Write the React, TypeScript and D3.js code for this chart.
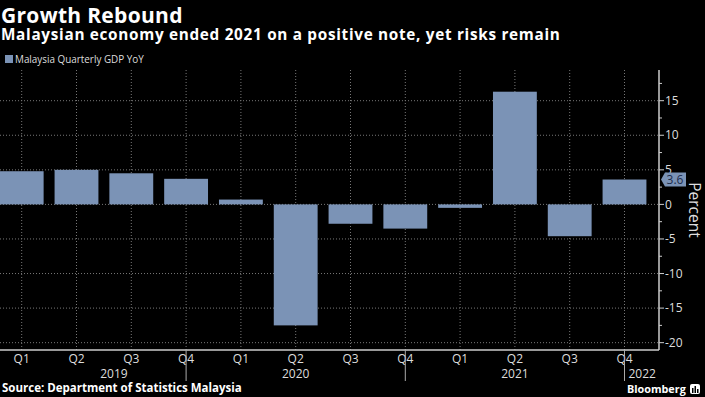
import React from "react";
import { scaleBand, scaleLinear, range } from "d3";

const quarters = ["Q1", "Q2", "Q3", "Q4", "Q1", "Q2", "Q3", "Q4", "Q1", "Q2", "Q3", "Q4"];
const gdpYoY = [4.8, 5.0, 4.5, 3.7, 0.7, -17.5, -2.8, -3.5, -0.5, 16.3, -4.6, 3.6];
const yTicks = [15, 10, 5, 0, -5, -10, -15, -20];
const yearLabels = ["2019", "2020", "2021", "2022"];
const lastValue = "3.6";

const width = 705;
const height = 397;
const barColor = "#7b93b6";
const font = "'Open Sans', 'DejaVu Sans', sans-serif";
const narrow = "'Open Sans', sans-serif";

const plot = { left: 0, right: 659, top: 70, bottom: 350 };

export default function App() {
  const keys = quarters.map((q, i) => i);

  const xScale = scaleBand<number>()
    .domain(keys)
    .range([-5.7, 651.9])
    .paddingInner(0.2)
    .paddingOuter(0.1);

  const yScale = scaleLinear().domain([-21.06, 19.44]).range([plot.bottom, plot.top]);

  const cx = (i: number) => (xScale(i) as number) + xScale.bandwidth() / 2;
  const minorTicks = range(-20, 19, 2.5).filter((v) => v % 5 !== 0);
  const seps = [3, 7, 11];
  const y0 = yScale(0);
  const labelY = yScale(gdpYoY[gdpYoY.length - 1]);

  // year labels sit between the year separators
  const yearX = [
    (cx(0) + cx(3)) / 2 + 10,
    (cx(3) + cx(7)) / 2,
    (cx(7) + cx(11)) / 2,
  ];

  return (
    <div style={{ position: "fixed", left: 0, top: 0 }}>
      <svg width={width} height={height} style={{ display: "block", background: "#000" }}>
        <rect width={width} height={height} fill="#000" />
        <text x={1} y={22.5} fill="#fff" fontFamily={font} fontWeight="bold" fontSize={21} letterSpacing={0.3}>
          Growth Rebound
        </text>
        <text x={1} y={40} fill="#fff" fontFamily={font} fontWeight="bold" fontSize={15.3} letterSpacing={0.7}>
          Malaysian economy ended 2021 on a positive note, yet risks remain
        </text>
        <rect x={5} y={55} width={8} height={8} fill={barColor} />
        <text x={15} y={63} fill="#ddd" fontFamily={narrow} fontSize={9.9}>
          Malaysia Quarterly GDP YoY
        </text>

        {/* grid */}
        {yTicks.map((t) => (
          <line
            key={"h" + t}
            x1={plot.left}
            x2={plot.right}
            y1={yScale(t)}
            y2={yScale(t)}
            stroke="#777"
            strokeDasharray="1,2"
          />
        ))}
        {keys.map((i) => (
          <line
            key={"v" + i}
            x1={cx(i)}
            x2={cx(i)}
            y1={plot.top}
            y2={plot.bottom}
            stroke="#777"
            strokeDasharray="1,2"
          />
        ))}

        {/* bars */}
        {gdpYoY.map((v, i) => (
          <rect
            key={i}
            x={xScale(i)}
            y={Math.min(yScale(v), y0)}
            width={xScale.bandwidth()}
            height={Math.abs(yScale(v) - y0)}
            fill={barColor}
          />
        ))}

        {/* x axis */}
        <line x1={plot.left} x2={plot.right} y1={plot.bottom} y2={plot.bottom} stroke="#ccc" strokeWidth={1.5} />
        {keys.map((i) => (
          <text
            key={"q" + i}
            x={cx(i)}
            y={363}
            textAnchor="middle"
            fill="#ddd"
            fontFamily={narrow}
            fontSize={12}
          >
            {quarters[i]}
          </text>
        ))}
        {seps.map((i) => (
          <line key={"s" + i} x1={cx(i)} x2={cx(i)} y1={plot.bottom} y2={381} stroke="#aaa" />
        ))}
        {yearX.map((x, i) => (
          <text key={"y" + i} x={x} y={378} textAnchor="middle" fill="#ddd" fontFamily={narrow} fontSize={12}>
            {yearLabels[i]}
          </text>
        ))}
        <text x={cx(11) + 4} y={378} fill="#ddd" fontFamily={narrow} fontSize={12}>
          {yearLabels[3]}
        </text>

        {/* y axis */}
        <line x1={plot.right} x2={plot.right} y1={plot.top} y2={plot.bottom} stroke="#ccc" strokeWidth={1.5} />
        {minorTicks.map((t) => (
          <line key={"m" + t} x1={plot.right} x2={plot.right + 3} y1={yScale(t)} y2={yScale(t)} stroke="#ccc" />
        ))}
        {yTicks.map((t) => (
          <g key={"t" + t} transform={`translate(${plot.right},${yScale(t)})`}>
            <line x2={5} stroke="#ccc" />
            <text x={6} dy=".35em" fill="#ddd" fontFamily={narrow} fontSize={12}>
              {t < 0 ? "-" + Math.abs(t) : t}
            </text>
          </g>
        ))}
        <text
          transform={`translate(689,210) rotate(90)`}
          textAnchor="middle"
          fill="#ddd"
          fontFamily={narrow}
          fontSize={15.5}
        >
          Percent
        </text>

        {/* last value callout */}
        <path
          d={`M${plot.right + 2},${labelY} L${plot.right + 6},${labelY - 7} L${plot.right + 27},${labelY - 7} L${plot.right + 27},${labelY + 7} L${plot.right + 6},${labelY + 7} Z`}
          fill={barColor}
        />
        <text x={plot.right + 16} y={labelY} dy=".35em" textAnchor="middle" fill="#1c2c4c" fontFamily={narrow} fontSize={12}>
          {lastValue}
        </text>

        <text x={2} y={392} fill="#fff" fontFamily={font} fontWeight="bold" fontSize={11.5}>
          Source: Department of Statistics Malaysia
        </text>
        <text x={627} y={393} fill="#fff" fontFamily={font} fontWeight="bold" fontSize={10.8}>
          Bloomberg
        </text>
        <rect x={690} y={384} width={10} height={10} rx={2} fill="#fff" />
        <rect x={692} y={388} width={1.5} height={5} fill="#000" />
        <rect x={694.5} y={386} width={1.5} height={7} fill="#000" />
        <rect x={697} y={389} width={1.5} height={4} fill="#000" />
      </svg>
    </div>
  );
}
